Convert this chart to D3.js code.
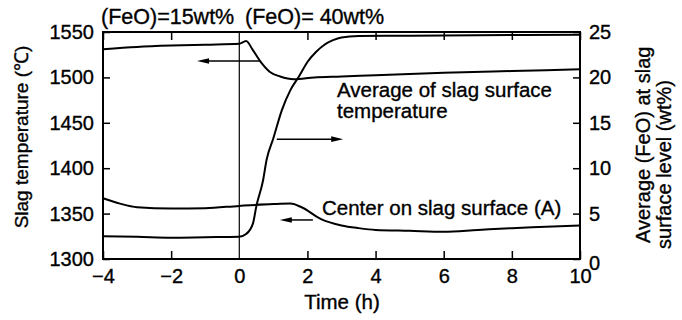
<!DOCTYPE html>
<html><head><meta charset="utf-8">
<script src="https://cdn.jsdelivr.net/npm/d3@7"></script>
<style>body{margin:0;background:#fff}svg{display:block}text{font-family:"Liberation Sans",Arial,sans-serif;fill:#000;stroke:#000;stroke-width:0.35px}</style>
</head><body><svg id="c" width="682" height="320"></svg>
<script>
// ---- data ----
const timeTicks = [-4,-2,0,2,4,6,8,10];
const tempTicks = [1300,1350,1400,1450,1500,1550];
const feoTicks = [0,5,10,15,20,25];

const avgTempTime = [-4,-3,-2,-1,0,0.2,0.4,0.65,0.9,1.2,1.6,2.2,3,4,6,8,10];
const avgTempVal  = [1531,1533.5,1535,1536,1537,1540,1530,1516,1506,1501,1498,1500,1501,1502.5,1505,1507,1509];

const centerTime = [-4,-3.5,-3,-2,-1,0,1,1.5,1.8,2.4,3,3.5,4,5,6,7,8,9,10];
const centerVal  = [1367,1361,1357,1355.5,1356,1358.5,1360.5,1361,1357.5,1344,1337,1334,1332,1331,1330,1332,1334,1335.5,1337];

const feoTime = [-4,-3,-2,-1,0,0.2,0.4,0.5,0.7,0.8,1.0,1.25,1.5,1.75,2.0,2.25,2.5,2.75,3.0,3.5,5,10];
const feoVal  = [2.5,2.45,2.35,2.4,2.45,2.75,3.9,5.8,8.7,10.9,13.3,16.4,18.6,20.1,21.7,22.8,23.6,24.1,24.4,24.55,24.6,24.7];

// annotation arrows in data units
const arrows = [
  {from:0.61, to:-1.24, v:1518, axis:"temp"},
  {from:1.1, to:3.05, v:13.2, axis:"feo"},
  {from:2.16, to:1.19, v:1343, axis:"temp"}
];

// ---- layout ----
const svg = d3.select("#c");
const L=103, R=580, T=32, B=259;
const x = d3.scaleLinear().domain([-4,10]).range([L,R]);
const yT = d3.scaleLinear().domain([1300,1550]).range([B,T]);
const yF = d3.scaleLinear().domain([0,25]).range([B,T]);

svg.append("rect").attr("x",L).attr("y",T).attr("width",R-L).attr("height",B-T)
  .attr("fill","none").attr("stroke","#000").attr("stroke-width",2);
svg.append("line").attr("x1",x(0)).attr("x2",x(0)).attr("y1",T).attr("y2",B)
  .attr("stroke","#000").attr("stroke-width",1.2);

const fmtMinus = d => d<0 ? "\u2212"+Math.abs(d) : String(d);
const gxB = svg.append("g").attr("transform",`translate(0,${B})`)
  .call(d3.axisBottom(x).tickValues(timeTicks).tickSize(-8).tickPadding(14).tickFormat(fmtMinus));
const gxT = svg.append("g").attr("transform",`translate(0,${T})`)
  .call(d3.axisTop(x).tickValues(timeTicks).tickSize(-8).tickFormat(""));
const gyL = svg.append("g").attr("transform",`translate(${L},0)`)
  .call(d3.axisLeft(yT).tickValues(tempTicks).tickSize(-7).tickPadding(9).tickFormat(d3.format("d")));
const gyR = svg.append("g").attr("transform",`translate(${R},0)`)
  .call(d3.axisRight(yF).tickValues(feoTicks).tickSize(-7).tickPadding(9).tickFormat(d3.format("d")));
[gxB,gxT,gyL,gyR].forEach(g=>{
  g.select(".domain").remove();
  g.selectAll(".tick line").attr("stroke","#000").attr("stroke-width",1.5);
  g.selectAll("text").attr("font-size",20).attr("font-family","Liberation Sans, Arial, sans-serif").attr("fill","#000");
});
gxB.selectAll(".tick").filter(d=>d===0).select("line").remove();
gxT.selectAll(".tick").filter(d=>d===0).select("line").remove();
gxB.selectAll("text").attr("dy","0.5em");
gyR.selectAll(".tick").filter(d=>d===0).select("text").attr("dy","0.5em");

const lineT = d3.line().x(d=>x(d[0])).y(d=>yT(d[1])).curve(d3.curveMonotoneX);
const lineF = d3.line().x(d=>x(d[0])).y(d=>yF(d[1])).curve(d3.curveMonotoneX);
svg.append("path").datum(d3.zip(avgTempTime,avgTempVal)).attr("d",lineT)
  .attr("fill","none").attr("stroke","#000").attr("stroke-width",2);
svg.append("path").datum(d3.zip(centerTime,centerVal)).attr("d",lineT)
  .attr("fill","none").attr("stroke","#000").attr("stroke-width",2);
svg.append("path").datum(d3.zip(feoTime,feoVal)).attr("d",lineF)
  .attr("fill","none").attr("stroke","#000").attr("stroke-width",2);

arrows.forEach(a=>{
  const ys = a.axis==="temp" ? yT : yF;
  const x0=x(a.from), x1=x(a.to), yy=ys(a.v);
  const dir = Math.sign(x1-x0);
  svg.append("line").attr("x1",x0).attr("x2",x1-dir*8).attr("y1",yy).attr("y2",yy)
    .attr("stroke","#000").attr("stroke-width",1.5);
  svg.append("path").attr("d",`M${x1},${yy} L${x1-dir*12},${yy-2.8} L${x1-dir*12},${yy+2.8} Z`).attr("fill","#000");
});

const txt = (s,xx,yy,opts={}) => svg.append("text").attr("x",xx).attr("y",yy)
  .attr("font-size",opts.size||20.5).attr("text-anchor",opts.anchor||"start")
  .attr("transform",opts.rot?`rotate(-90,${xx},${yy})`:null).text(s);
txt("(FeO)=15wt%", 101, 24, {size:21.5});
txt("(FeO)= 40wt%", 245, 24, {size:21.5});
txt("Average of slag surface", 337, 97);
txt("temperature", 337, 118);
txt("Center on slag surface (A)", 322, 215);
txt("Time (h)", 342, 309, {anchor:"middle"});
txt("Slag temperature (\u2103)", 28, 137, {anchor:"middle", rot:true, size:19});
txt("Average (FeO) at slag", 650, 243, {rot:true, size:20});
txt("surface level (wt%)", 671, 249, {rot:true, size:20});
</script></body></html>
